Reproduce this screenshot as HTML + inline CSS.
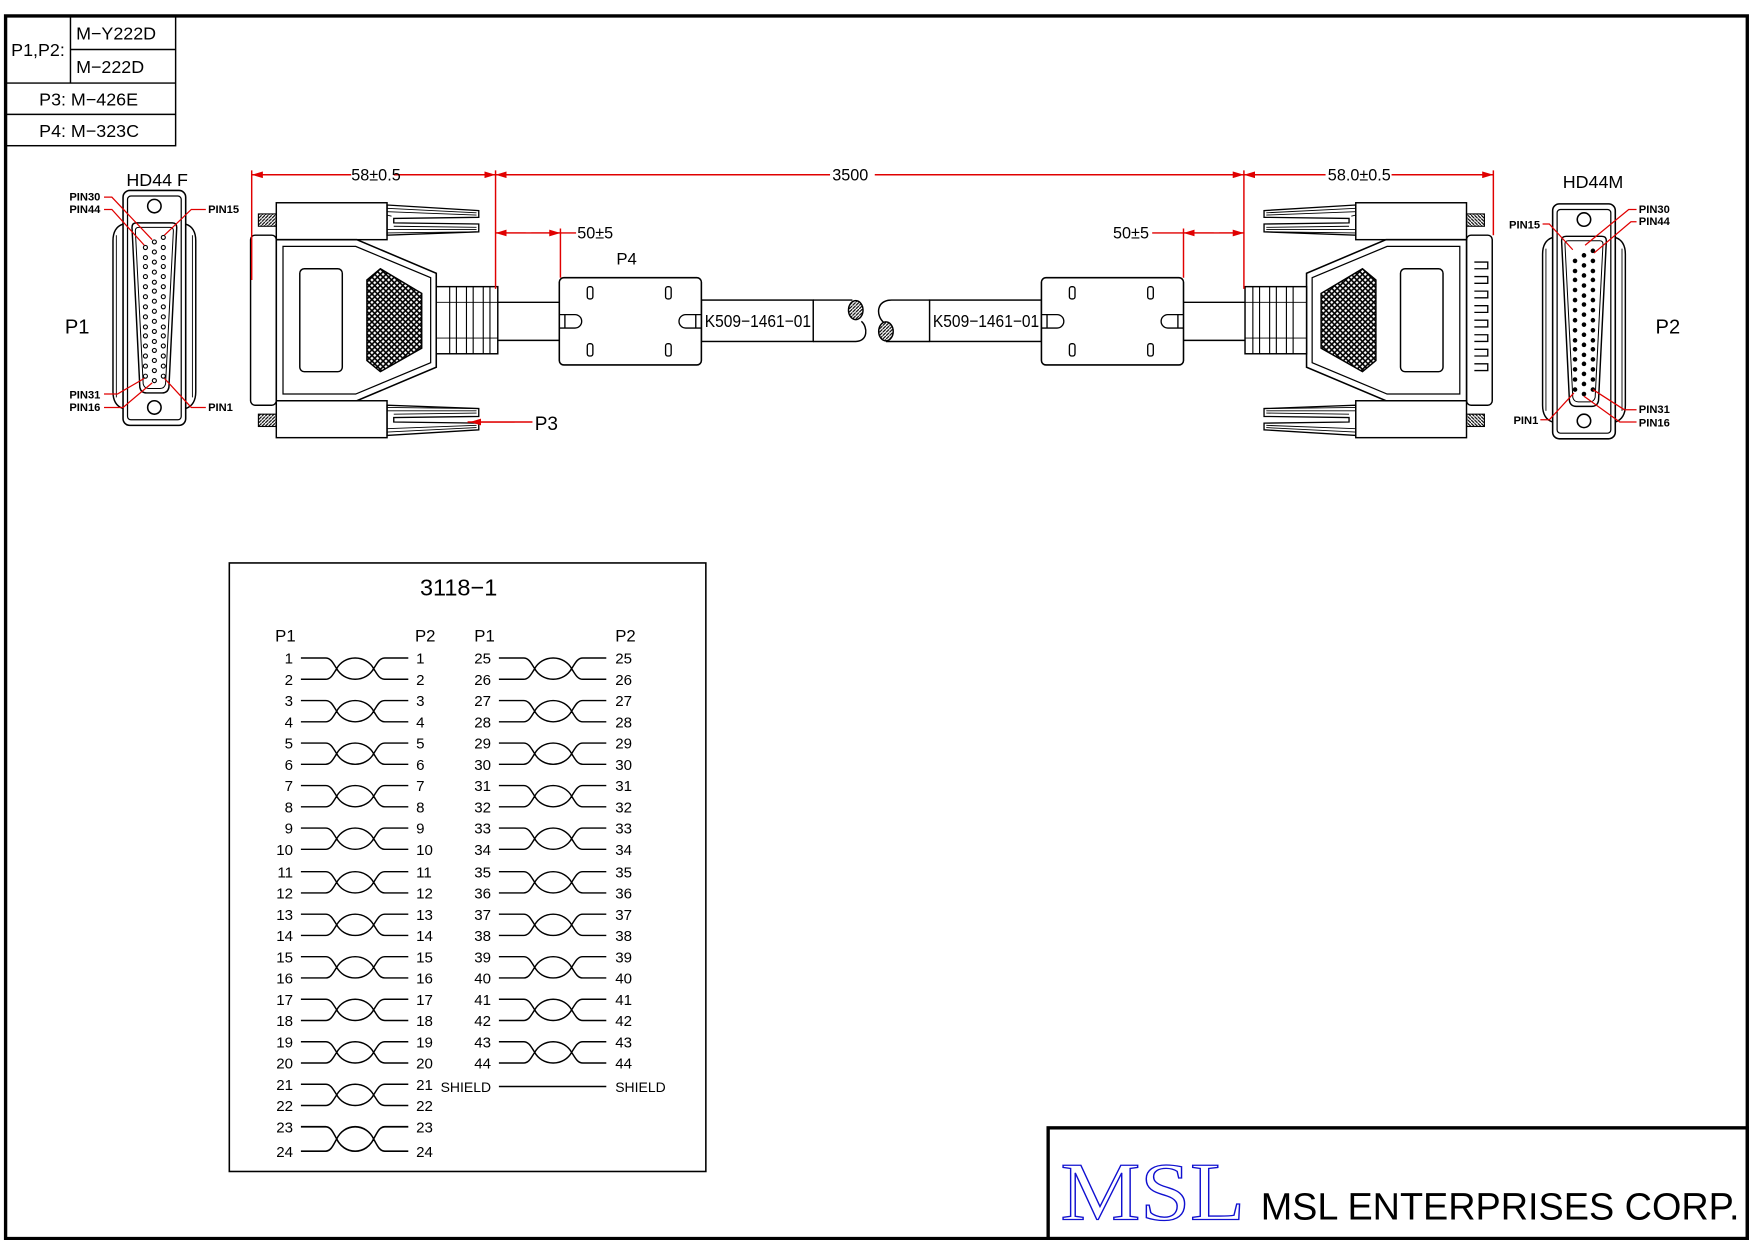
<!DOCTYPE html>
<html><head><meta charset="utf-8"><style>
html,body{margin:0;padding:0;background:#fff}
svg{display:block}
text{font-family:"Liberation Sans",sans-serif;fill:#000}
text.serif{font-family:"Liberation Serif",serif}
</style></head><body>
<svg width="1754" height="1240" viewBox="0 0 1568 1108" xmlns="http://www.w3.org/2000/svg">
<defs>
<pattern id="mesh" width="5" height="5" patternUnits="userSpaceOnUse">
<rect width="5" height="5" fill="#fff"/>
<path d="M0,0L5,5M5,0L0,5" stroke="#000" stroke-width="1.4"/>
</pattern>
<pattern id="hatch" width="3" height="3" patternUnits="userSpaceOnUse">
<rect width="3" height="3" fill="#fff"/>
<path d="M0,3L3,0" stroke="#000" stroke-width="1"/>
</pattern>
<path id="tw" d="M0,0 H22 C27,0 29,5 32,9.5 C35,15 41,19 48.5,19 C56,19 62,15 65,9.5 C68,5 70,0 75,0 H96 M0,19 H22 C27,19 29,14 32,9.5 C35,4 41,0 48.5,0 C56,0 62,4 65,9.5 C68,14 70,19 75,19 H96" fill="none" stroke="#000" stroke-width="1.3"/>
<g id="side">
 <rect x="224" y="210" width="23" height="152" rx="4" fill="none" stroke="#000" stroke-width="1.3"/>
 <rect x="231" y="191" width="16" height="11" fill="url(#hatch)" stroke="#000"/>
 <rect x="231" y="370" width="16" height="11" fill="url(#hatch)" stroke="#000"/>
 <rect x="247" y="181" width="99" height="33" fill="none" stroke="#000" stroke-width="1.3"/>
 <rect x="247" y="358" width="99" height="33" fill="none" stroke="#000" stroke-width="1.3"/>
 <path d="M346,183 L428,188 V194 L352,195 V199 L428,200 V207 L346,210 Z" fill="none" stroke="#000" stroke-width="1.2"/>
 <path d="M346,186 L426,190 M346,189 L426,192 M346,192 L350,193 M352,202 L426,203 M346,205 L426,205 M346,208 L426,207" stroke="#000" stroke-width="0.8"/>
 <path d="M346,389 L428,384 V378 L352,377 V373 L428,372 V365 L346,362 Z" fill="none" stroke="#000" stroke-width="1.2"/>
 <path d="M346,386 L426,382 M346,383 L426,380 M352,370 L426,369 M346,367 L426,367 M346,364 L426,365" stroke="#000" stroke-width="0.8"/>
 <path d="M247,214 H319 L390,244 V328 L319,358 H247 Z" fill="#fff" stroke="#000" stroke-width="1.4"/>
 <path d="M253,220 H318 L385,248 V324 L318,352 H253 Z" fill="none" stroke="#000" stroke-width="1.1"/>
 <rect x="268" y="240" width="38" height="92" rx="4" fill="none" stroke="#000" stroke-width="1.3"/>
 <path d="M340,240 L377,262 V311 L340,332 L328,322 V250 Z" fill="url(#mesh)" stroke="#000" stroke-width="1.3"/>
 <rect x="390" y="256" width="55" height="60" fill="#fff" stroke="#000" stroke-width="1.3"/>
 <path d="M402,256V316M408,256V316M417,256V316M423,256V316M432,256V316M438,256V316" stroke="#000" stroke-width="1"/>
 <path d="M390,270H445M390,302H445" stroke="#000" stroke-width="0.8"/>
</g>
<g id="front">
 <path d="M110,200 Q101,203 101,215 V350 Q101,362 110,365" fill="none" stroke="#000" stroke-width="1.3"/>
 <path d="M166,200 Q175,203 175,215 V350 Q175,362 166,365" fill="none" stroke="#000" stroke-width="1.3"/>
 <path d="M104,210 V355 M172,210 V355" stroke="#000" stroke-width="0.8"/>
 <rect x="110" y="170" width="56" height="210" rx="6" fill="#fff" stroke="#000" stroke-width="1.4"/>
 <rect x="114" y="175" width="48" height="200" rx="3" fill="none" stroke="#000" stroke-width="1.1"/>
 <circle cx="138" cy="184" r="6" fill="none" stroke="#000" stroke-width="1.4"/>
 <circle cx="138" cy="364" r="6" fill="none" stroke="#000" stroke-width="1.4"/>
 <path d="M122,199 H154 Q158,199 158,203 L151,346 Q150,351 145,351 H131 Q126,351 125,346 L118,203 Q118,199 122,199 Z" fill="#fff" stroke="#000" stroke-width="1.3"/>
 <path d="M124,203 H152 Q155,203 155,206 L148,343 Q147,347 143,347 H133 Q129,347 128,343 L121,206 Q121,203 124,203 Z" fill="none" stroke="#000" stroke-width="0.9"/>
</g>
<g id="pinset">
 <circle cx="130" cy="221" r="1.8"/><circle cx="130" cy="230" r="1.8"/><circle cx="130" cy="238" r="1.8"/><circle cx="130" cy="247" r="1.8"/><circle cx="130" cy="256" r="1.8"/><circle cx="130" cy="265" r="1.8"/><circle cx="130" cy="274" r="1.8"/><circle cx="130" cy="283" r="1.8"/><circle cx="130" cy="292" r="1.8"/><circle cx="130" cy="300" r="1.8"/><circle cx="130" cy="309" r="1.8"/><circle cx="130" cy="318" r="1.8"/><circle cx="130" cy="327" r="1.8"/><circle cx="130" cy="336" r="1.8"/>
 <circle cx="138" cy="216" r="1.8"/><circle cx="138" cy="225" r="1.8"/><circle cx="138" cy="234" r="1.8"/><circle cx="138" cy="243" r="1.8"/><circle cx="138" cy="252" r="1.8"/><circle cx="138" cy="260" r="1.8"/><circle cx="138" cy="269" r="1.8"/><circle cx="138" cy="278" r="1.8"/><circle cx="138" cy="287" r="1.8"/><circle cx="138" cy="296" r="1.8"/><circle cx="138" cy="305" r="1.8"/><circle cx="138" cy="313" r="1.8"/><circle cx="138" cy="322" r="1.8"/><circle cx="138" cy="331" r="1.8"/><circle cx="138" cy="340" r="1.8"/>
 <circle cx="146" cy="212" r="1.8"/><circle cx="146" cy="221" r="1.8"/><circle cx="146" cy="230" r="1.8"/><circle cx="146" cy="238" r="1.8"/><circle cx="146" cy="247" r="1.8"/><circle cx="146" cy="256" r="1.8"/><circle cx="146" cy="265" r="1.8"/><circle cx="146" cy="274" r="1.8"/><circle cx="146" cy="283" r="1.8"/><circle cx="146" cy="292" r="1.8"/><circle cx="146" cy="300" r="1.8"/><circle cx="146" cy="309" r="1.8"/><circle cx="146" cy="318" r="1.8"/><circle cx="146" cy="327" r="1.8"/><circle cx="146" cy="336" r="1.8"/>
</g>
<g id="p4box">
 <rect x="0" y="0" width="127" height="78" rx="4" fill="#fff" stroke="#000" stroke-width="1.4"/>
 <rect x="25" y="8" width="5" height="11" rx="2" fill="none" stroke="#000" stroke-width="1.2"/>
 <rect x="95" y="8" width="5" height="11" rx="2" fill="none" stroke="#000" stroke-width="1.2"/>
 <rect x="25" y="59" width="5" height="11" rx="2" fill="none" stroke="#000" stroke-width="1.2"/>
 <rect x="95" y="59" width="5" height="11" rx="2" fill="none" stroke="#000" stroke-width="1.2"/>
 <path d="M0,33 H14 A6,6 0 0 1 14,45 H0 M5,33 V45" fill="none" stroke="#000" stroke-width="1.2"/>
 <path d="M127,33 H113 A6,6 0 0 0 113,45 H127 M122,33 V45" fill="none" stroke="#000" stroke-width="1.2"/>
</g>
<marker id="ar" viewBox="0 0 10 6" refX="10" refY="3" markerWidth="10" markerHeight="6" orient="auto-start-reverse" markerUnits="userSpaceOnUse"><path d="M0,0L10,3L0,6Z" fill="#e00000"/></marker>
</defs>

<path d="M5,1107 V14 H1562 V1107 Z" fill="none" stroke="#000" stroke-width="3"/>

<g stroke="#000" stroke-width="1.3" fill="none">
<rect x="5" y="14" width="152" height="116"/>
<path d="M63,14V74 M63,44H157 M5,74H157 M5,102H157"/>
</g>
<g font-size="16">
<text x="10" y="50">P1,P2:</text>
<text x="68" y="35">M−Y222D</text>
<text x="68" y="65">M−222D</text>
<text x="35" y="94">P3: M−426E</text>
<text x="35" y="122">P4: M−323C</text>
</g>

<text x="113" y="166" font-size="16">HD44  F</text>
<use href="#front"/>
<g fill="none" stroke="#000" stroke-width="1"><use href="#pinset"/></g>
<text x="58" y="298" font-size="18">P1</text>
<g font-size="10" font-weight="bold">
<text x="62" y="179">PIN30</text><text x="62" y="190">PIN44</text><text x="186" y="190">PIN15</text>
<text x="62" y="356">PIN31</text><text x="62" y="367">PIN16</text><text x="186" y="367">PIN1</text>
</g>
<path d="M93,176 H100 L136,214 M93,187 H100 L129,219 M184,187 H171 L147,210 M93,352 H105 L129,338 M93,364 H110 L136,342 M184,364 H171 L147,338" fill="none" stroke="#e00000" stroke-width="1.1"/>

<text x="1397" y="168" font-size="16">HD44M</text>
<g transform="translate(1278,12)"><use href="#front"/><g fill="#000" stroke="#000" stroke-width="0.5"><use href="#pinset"/></g></g>
<text x="1480" y="298" font-size="18">P2</text>
<g font-size="10" font-weight="bold">
<text x="1349" y="204">PIN15</text><text x="1465" y="190">PIN30</text><text x="1465" y="201">PIN44</text>
<text x="1353" y="379">PIN1</text><text x="1465" y="369">PIN31</text><text x="1465" y="381">PIN16</text>
</g>
<path d="M1379,200 H1385 L1406,223 M1463,187 H1456 L1417,219 M1463,198 H1458 L1425,226 M1377,375 H1385 L1407,351 M1463,366 H1452 L1424,348 M1463,377 H1448 L1416,354" fill="none" stroke="#e00000" stroke-width="1.1"/>

<use href="#side"/>
<g transform="translate(1558,0) scale(-1,1)"><use href="#side"/></g>
<g fill="none" stroke="#000" stroke-width="1.2">
<path d="M1318,234 H1330 V240 H1318 M1318,247 H1330 V253 H1318 M1318,260 H1330 V266 H1318 M1318,273 H1330 V279 H1318 M1318,286 H1330 V292 H1318 M1318,299 H1330 V305 H1318 M1318,312 H1330 V318 H1318 M1318,325 H1330 V331 H1318"/>
</g>

<g stroke="#000" stroke-width="1.3" fill="none">
<path d="M445,270H500M445,304H500"/>
<path d="M1058,270H1113M1058,304H1113"/>
<rect x="627" y="268" width="100" height="37"/>
<path d="M727,268 H762 M727,305 H765 C776,305 776,292 770,287"/>
<rect x="831" y="268" width="100" height="37"/>
<path d="M831,268 H797 C783,268 783,282 790,288 M831,305 H792"/>
</g>
<ellipse cx="765" cy="277" rx="6.5" ry="8.5" fill="url(#hatch)" stroke="#000" stroke-width="1.3"/>
<ellipse cx="792" cy="296" rx="6.5" ry="8.5" fill="url(#hatch)" stroke="#000" stroke-width="1.3"/>
<g transform="translate(500,248)"><use href="#p4box"/></g>
<g transform="translate(931,248)"><use href="#p4box"/></g>
<g font-size="15.5">
<text x="630" y="292" textLength="95" lengthAdjust="spacingAndGlyphs">K509−1461−01</text>
<text x="834" y="292" textLength="95" lengthAdjust="spacingAndGlyphs">K509−1461−01</text>
</g>
<text x="551" y="236" font-size="15">P4</text>

<g stroke="#e00000" stroke-width="1.3" fill="none">
<path d="M225,152 V250 M443,152 V258 M1112,152 V258 M1335,152 V210"/>
<path d="M225,156 H314 M352,156 H443" />
<path d="M443,156 H742 M782,156 H1112"/>
<path d="M1112,156 H1185 M1244,156 H1335"/>
<path d="M501,204 V248 M1058,204 V248"/>
<path d="M443,208 H515 M1030,208 H1112"/>
<path d="M418,377 H476"/>
</g>
<g stroke="#e00000" stroke-width="1" fill="none">
<path d="M225,156 H260" marker-start="url(#ar)"/><path d="M410,156 H443" marker-end="url(#ar)"/>
<path d="M443,156 H480" marker-start="url(#ar)"/><path d="M1080,156 H1112" marker-end="url(#ar)"/>
<path d="M1112,156 H1140" marker-start="url(#ar)"/><path d="M1300,156 H1335" marker-end="url(#ar)"/>
<path d="M443,208 H470" marker-start="url(#ar)"/><path d="M475,208 H501" marker-end="url(#ar)"/>
<path d="M1058,208 H1085" marker-start="url(#ar)"/><path d="M1090,208 H1112" marker-end="url(#ar)"/>
<path d="M460,377 H420" marker-end="url(#ar)"/>
</g>
<g font-size="14.5">
<text x="314" y="161">58±0.5</text>
<text x="744" y="161">3500</text>
<text x="1187" y="161">58.0±0.5</text>
<text x="516" y="213">50±5</text>
<text x="995" y="213">50±5</text>
</g>
<text x="478" y="384" font-size="17">P3</text>

<rect x="205" y="503" width="426" height="544" fill="none" stroke="#000" stroke-width="1.4"/>
<text x="410" y="532" font-size="21" text-anchor="middle">3118−1</text>
<g font-size="15">
<text x="246" y="573">P1</text><text x="371" y="573">P2</text>
<text x="424" y="573">P1</text><text x="550" y="573">P2</text>
</g>
<g>
<use href="#tw" x="269" y="588"/><use href="#tw" x="269" y="626"/><use href="#tw" x="269" y="664"/><use href="#tw" x="269" y="702"/><use href="#tw" x="269" y="740"/><use href="#tw" x="269" y="779"/><use href="#tw" x="269" y="817"/><use href="#tw" x="269" y="855"/><use href="#tw" x="269" y="893"/><use href="#tw" x="269" y="931"/><use href="#tw" x="269" y="969"/>
<g transform="translate(269,1007) scale(1,1.15)"><use href="#tw"/></g>
<use href="#tw" x="446" y="588"/><use href="#tw" x="446" y="626"/><use href="#tw" x="446" y="664"/><use href="#tw" x="446" y="702"/><use href="#tw" x="446" y="740"/><use href="#tw" x="446" y="779"/><use href="#tw" x="446" y="817"/><use href="#tw" x="446" y="855"/><use href="#tw" x="446" y="893"/><use href="#tw" x="446" y="931"/>
<path d="M446,971 H542" stroke="#000" stroke-width="1.3"/>
</g>
<g font-size="13.5" text-anchor="end">
<text x="262" y="593">1</text><text x="262" y="612">2</text>
<text x="262" y="631">3</text><text x="262" y="650">4</text>
<text x="262" y="669">5</text><text x="262" y="688">6</text>
<text x="262" y="707">7</text><text x="262" y="726">8</text>
<text x="262" y="745">9</text><text x="262" y="764">10</text>
<text x="262" y="784">11</text><text x="262" y="803">12</text>
<text x="262" y="822">13</text><text x="262" y="841">14</text>
<text x="262" y="860">15</text><text x="262" y="879">16</text>
<text x="262" y="898">17</text><text x="262" y="917">18</text>
<text x="262" y="936">19</text><text x="262" y="955">20</text>
<text x="262" y="974">21</text><text x="262" y="993">22</text>
<text x="262" y="1012">23</text><text x="262" y="1034">24</text>
<text x="439" y="593">25</text><text x="439" y="612">26</text>
<text x="439" y="631">27</text><text x="439" y="650">28</text>
<text x="439" y="669">29</text><text x="439" y="688">30</text>
<text x="439" y="707">31</text><text x="439" y="726">32</text>
<text x="439" y="745">33</text><text x="439" y="764">34</text>
<text x="439" y="784">35</text><text x="439" y="803">36</text>
<text x="439" y="822">37</text><text x="439" y="841">38</text>
<text x="439" y="860">39</text><text x="439" y="879">40</text>
<text x="439" y="898">41</text><text x="439" y="917">42</text>
<text x="439" y="936">43</text><text x="439" y="955">44</text>
<text x="439" y="976" font-size="12.5">SHIELD</text>
</g>
<g font-size="13.5">
<text x="372" y="593">1</text><text x="372" y="612">2</text>
<text x="372" y="631">3</text><text x="372" y="650">4</text>
<text x="372" y="669">5</text><text x="372" y="688">6</text>
<text x="372" y="707">7</text><text x="372" y="726">8</text>
<text x="372" y="745">9</text><text x="372" y="764">10</text>
<text x="372" y="784">11</text><text x="372" y="803">12</text>
<text x="372" y="822">13</text><text x="372" y="841">14</text>
<text x="372" y="860">15</text><text x="372" y="879">16</text>
<text x="372" y="898">17</text><text x="372" y="917">18</text>
<text x="372" y="936">19</text><text x="372" y="955">20</text>
<text x="372" y="974">21</text><text x="372" y="993">22</text>
<text x="372" y="1012">23</text><text x="372" y="1034">24</text>
<text x="550" y="593">25</text><text x="550" y="612">26</text>
<text x="550" y="631">27</text><text x="550" y="650">28</text>
<text x="550" y="669">29</text><text x="550" y="688">30</text>
<text x="550" y="707">31</text><text x="550" y="726">32</text>
<text x="550" y="745">33</text><text x="550" y="764">34</text>
<text x="550" y="784">35</text><text x="550" y="803">36</text>
<text x="550" y="822">37</text><text x="550" y="841">38</text>
<text x="550" y="860">39</text><text x="550" y="879">40</text>
<text x="550" y="898">41</text><text x="550" y="917">42</text>
<text x="550" y="936">43</text><text x="550" y="955">44</text>
<text x="550" y="976" font-size="12.5">SHIELD</text>
</g>

<rect x="937" y="1008" width="625" height="99" fill="none" stroke="#000" stroke-width="3"/>
<text class="serif" x="948" y="1090" font-size="74" style="fill:none;stroke:#1010d0;stroke-width:1.2" textLength="165" lengthAdjust="spacingAndGlyphs">MSL</text>
<text x="1127" y="1090" font-size="34" textLength="428" lengthAdjust="spacingAndGlyphs">MSL ENTERPRISES CORP.</text>
</svg>
</body></html>
